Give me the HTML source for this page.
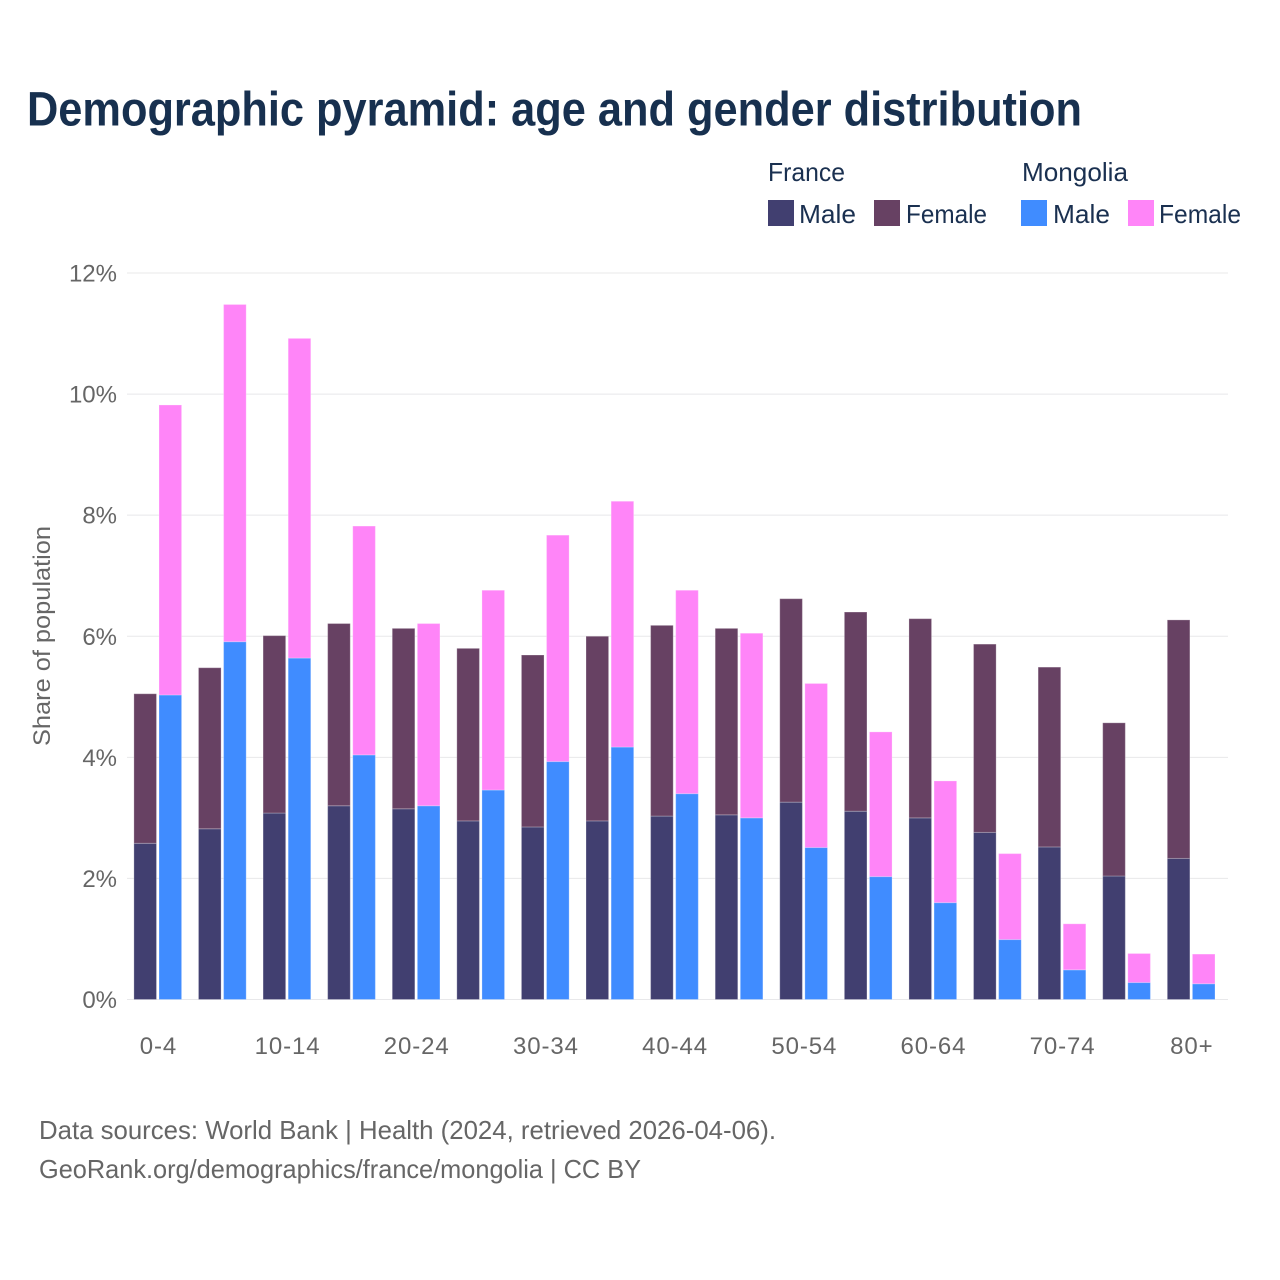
<!DOCTYPE html>
<html lang="en">
<head>
<meta charset="utf-8">
<title>Demographic pyramid: age and gender distribution</title>
<style>
html,body{margin:0;padding:0;background:#fff;}
svg{display:block;font-family:"Liberation Sans",sans-serif;}
</style>
</head>
<body>
<svg id="chart" xmlns="http://www.w3.org/2000/svg" width="1280" height="1280" viewBox="0 0 1280 1280">
<rect x="0" y="0" width="1280" height="1280" fill="#ffffff"/>
<text x="27" y="125.5" font-size="48" font-weight="700" fill="#17304f" textLength="1055" lengthAdjust="spacingAndGlyphs">Demographic pyramid: age and gender distribution</text>

<g fill="#1a3050" font-size="26">
<text x="768" y="181" textLength="77" lengthAdjust="spacingAndGlyphs">France</text>
<text x="1022" y="181" textLength="106" lengthAdjust="spacingAndGlyphs">Mongolia</text>
<rect x="768" y="200" width="26" height="26" fill="#413f70"/>
<text x="799" y="223" textLength="57" lengthAdjust="spacingAndGlyphs">Male</text>
<rect x="874" y="200" width="26" height="26" fill="#674163"/>
<text x="906" y="223" textLength="81" lengthAdjust="spacingAndGlyphs">Female</text>
<rect x="1021" y="200" width="26" height="26" fill="#408cff"/>
<text x="1053" y="223" textLength="57" lengthAdjust="spacingAndGlyphs">Male</text>
<rect x="1128" y="200" width="26" height="26" fill="#ff85f8"/>
<text x="1159" y="223" textLength="82" lengthAdjust="spacingAndGlyphs">Female</text>
</g>

<g id="grid"></g>
<g id="yticks"></g>
<g id="bars"></g>
<g id="xticks"></g>

<text x="0" y="0" transform="translate(50,636) rotate(-90)" text-anchor="middle" font-size="24" fill="#666666" textLength="220" lengthAdjust="spacingAndGlyphs">Share of population</text>

<text x="39" y="1139" font-size="26" fill="#666666" textLength="737" lengthAdjust="spacingAndGlyphs">Data sources: World Bank | Health (2024, retrieved 2026-04-06).</text>
<text x="39" y="1178" font-size="26" fill="#666666" textLength="602" lengthAdjust="spacingAndGlyphs">GeoRank.org/demographics/france/mongolia | CC BY</text>
</svg>

<script>
const categories = ["0-4","5-9","10-14","15-19","20-24","25-29","30-34","35-39","40-44","45-49","50-54","55-59","60-64","65-69","70-74","75-79","80+"];
const xTickLabels = ["0-4","10-14","20-24","30-34","40-44","50-54","60-64","70-74","80+"];
const yTickValues = [0,2,4,6,8,10,12];
const franceMale = [2.58,2.82,3.08,3.20,3.15,2.95,2.85,2.95,3.03,3.05,3.26,3.11,3.00,2.76,2.52,2.04,2.33];
const franceFemale = [2.47,2.66,2.93,3.01,2.98,2.85,2.84,3.05,3.15,3.08,3.36,3.29,3.29,3.11,2.97,2.53,3.94];
const mongoliaMale = [5.03,5.91,5.64,4.04,3.20,3.46,3.93,4.17,3.40,3.00,2.51,2.03,1.60,0.99,0.49,0.28,0.26];
const mongoliaFemale = [4.79,5.57,5.28,3.78,3.01,3.30,3.74,4.06,3.36,3.05,2.71,2.39,2.01,1.42,0.76,0.48,0.49];

const SVG_NS = "http://www.w3.org/2000/svg";
function yScale(v){ return 999.5 - v * (726.5 / 12); }
function xScale(i){ return 157.8 + i * (1033.4 / (categories.length - 1)); }

const gridG = document.getElementById("grid");
const yTicksG = document.getElementById("yticks");
yTickValues.forEach(function(v){
  const line = document.createElementNS(SVG_NS, "line");
  line.setAttribute("x1", 127);
  line.setAttribute("x2", 1228);
  line.setAttribute("y1", yScale(v));
  line.setAttribute("y2", yScale(v));
  line.setAttribute("stroke", "#e8e8ea");
  line.setAttribute("stroke-width", 1);
  
  
  gridG.appendChild(line);
  const t = document.createElementNS(SVG_NS, "text");
  t.setAttribute("x", 117);
  t.setAttribute("y", yScale(v) + 8.5);
  t.setAttribute("text-anchor", "end");
  t.setAttribute("font-size", 24);
  t.setAttribute("fill", "#666666");
  t.textContent = v + "%";
  
  
  yTicksG.appendChild(t);
});

const barsG = document.getElementById("bars");
function addBar(x, base, value, fill, name){
  const r = document.createElementNS(SVG_NS, "rect");
  const top = yScale(base + value);
  r.setAttribute("x", x);
  r.setAttribute("y", top);
  r.setAttribute("width", 22.6);
  r.setAttribute("height", yScale(base) - top);
  r.setAttribute("fill", fill);
  r.setAttribute("stroke", "#ffffff");
  r.setAttribute("stroke-opacity", "0.25");
  r.setAttribute("stroke-width", 1);
  
  
  barsG.appendChild(r);
}
categories.forEach(function(c, i){
  const cx = xScale(i);
  addBar(cx - 23.9, 0, franceMale[i], "#413f70", "bar-france-male");
  addBar(cx - 23.9, franceMale[i], franceFemale[i], "#674163", "bar-france-female");
  addBar(cx + 1.2, 0, mongoliaMale[i], "#408cff", "bar-mongolia-male");
  addBar(cx + 1.2, mongoliaMale[i], mongoliaFemale[i], "#ff85f8", "bar-mongolia-female");
});

const xTicksG = document.getElementById("xticks");
xTickLabels.forEach(function(label){
  const t = document.createElementNS(SVG_NS, "text");
  t.setAttribute("x", xScale(categories.indexOf(label)) + 0.6);
  t.setAttribute("y", 1054);
  t.setAttribute("text-anchor", "middle");
  t.setAttribute("font-size", 24);
  t.setAttribute("letter-spacing", "0.9");
  t.setAttribute("fill", "#666666");
  t.textContent = label;
  
  
  xTicksG.appendChild(t);
});
</script>
</body>
</html>
